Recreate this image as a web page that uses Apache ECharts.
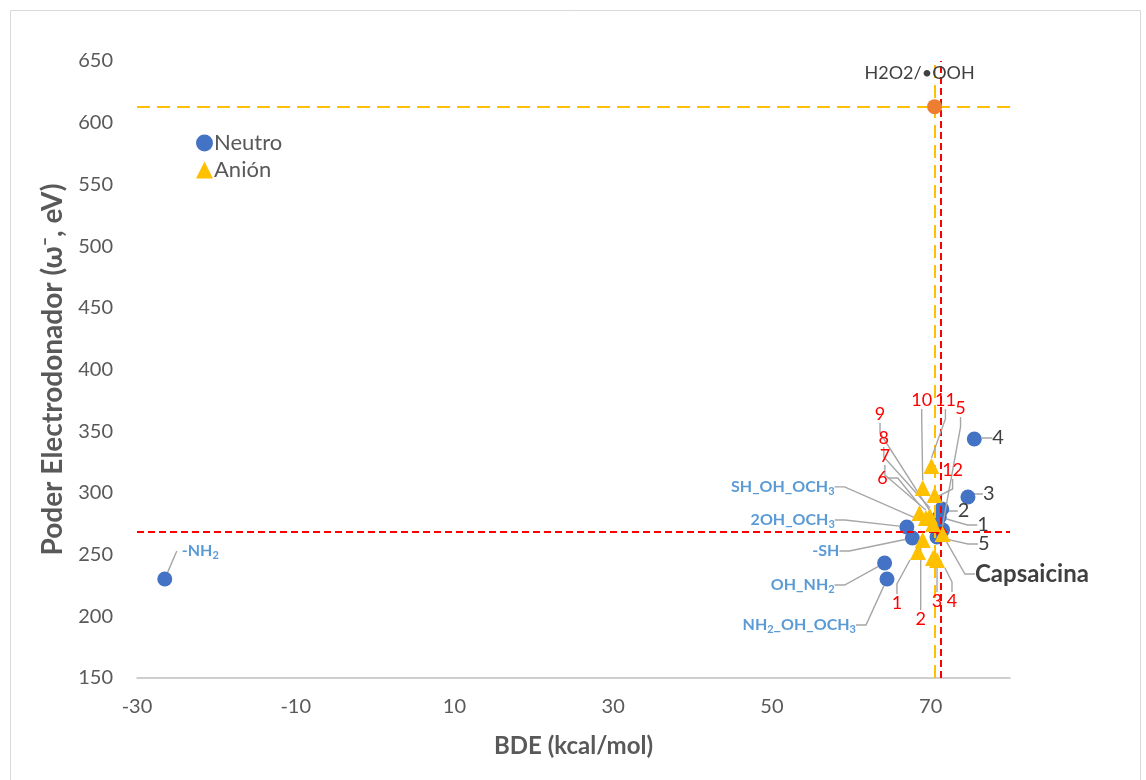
<!DOCTYPE html>
<html>
<head>
<meta charset="utf-8">
<script src="https://cdn.jsdelivr.net/npm/echarts@6/dist/echarts.min.js"></script>
<style>
  html, body { margin: 0; padding: 0; background: #ffffff; }
  #chart { width: 1146px; height: 780px; }
</style>
</head>
<body>
<div id="chart"></div>
<script>
// Neutral species (blue circles)
const neutroNames = ['1', '2', '3', '4', '5', 'SH_OH_OCH3', '2OH_OCH3', '-SH', 'OH_NH2', 'NH2_OH_OCH3', '-NH2'];
const neutroBDE   = [71.1, 71.4, 74.7, 75.5, 70.8, 71.5, 67.0, 67.7, 64.2, 64.5, -26.5];
const neutroOmega = [280.5, 287.0, 296.7, 343.7, 264.3, 270.0, 272.4, 263.5, 243.2, 230.2, 230.2];

// Anionic species (yellow triangles)
const anionNames = ['1', '2', '3', '4', '5', '6', '7', '8', '9', '10', '11', '12'];
const anionBDE   = [68.4, 69.0, 70.3, 70.8, 71.5, 68.6, 69.4, 69.9, 70.3, 69.0, 70.1, 70.5];
const anionOmega = [252.1, 261.8, 247.2, 245.6, 266.7, 283.7, 279.7, 281.3, 274.8, 304.0, 321.8, 298.3];

// Reference compounds
const capsaicinName  = ['Capsaicina'];
const capsaicinBDE   = [71.3];
const capsaicinOmega = [268.3];
const radicalName  = ['H2O2/•OOH'];
const radicalBDE   = [70.5];
const radicalOmega = [613];

// Axis ranges
const xMin = -30, xMax = 80, xStep = 20;
const yMin = 150, yMax = 650, yStep = 50;

// Label placement: offsets in pixels from each marker centre, with text alignment
const neutroLabelPos = [
  [38, 8, 'left'], [16, 2, 'left'], [15, -3, 'left'], [18, -1, 'left'], [41, 7, 'left'],
  [-108, -43, 'right'], [-72, -7, 'right'], [-73, 13, 'right'], [-50, 22, 'right'], [-31, 46, 'right'],
  [12, -28, 'left']
];
const anionLabelPos = [
  [-21, 51, 'center'], [-2, 79, 'center'], [4, 43, 'center'], [15, 41, 'center'], [18, -126, 'center'],
  [-37, -35, 'center'], [-41, -62, 'center'], [-46, -78, 'center'], [-53, -110, 'center'],
  [-1, -88, 'center'], [14, -66, 'center'], [18, -25, 'center']
];
const capsaicinLabelPos = [[34, 42, 'left']];

const FONT = 'Lato, "Open Sans", sans-serif';
const leaderLine = { show: true, length2: 10, lineStyle: { color: '#a6a6a6', width: 1.4 } };

function zip(xs, ys, names) {
  return xs.map((x, i) => ({ name: names[i], value: [x, ys[i]] }));
}

function layoutFrom(table) {
  return function (params) {
    const p = table[params.dataIndex];
    const r = params.rect;
    return {
      x: r.x + r.width / 2 + p[0],
      y: r.y + r.height / 2 + p[1],
      align: p[2],
      verticalAlign: 'middle'
    };
  };
}

// Chemical formula subscripts: a digit right after H is written as subscript
function formula(name) {
  return name.replace(/H(\d)/g, 'H{s|$1}');
}

const chart = echarts.init(document.getElementById('chart'), null, { renderer: 'canvas' });

const option = {
  animation: false,
  backgroundColor: '#ffffff',
  textStyle: { fontFamily: FONT },
  graphic: [{
    type: 'rect',
    silent: true,
    shape: { x: 10.5, y: 10.5, width: 1130, height: 790 },
    style: { fill: 'none', stroke: '#d9d9d9', lineWidth: 1 }
  }],
  grid: { left: 137, top: 61, right: 136, bottom: 102, containLabel: false },
  legend: {
    left: 191, top: 127, orient: 'vertical',
    itemWidth: 17, itemHeight: 17, itemGap: 5,
    data: ['Neutro', 'Anión'],
    textStyle: { fontSize: 22, color: '#595959', fontFamily: FONT, padding: [0, 0, 0, -4] }
  },
  xAxis: {
    type: 'value', min: xMin, max: xMax, interval: xStep,
    name: 'BDE (kcal/mol)', nameLocation: 'middle', nameGap: 56,
    nameTextStyle: { fontSize: 24, fontWeight: 'bold', color: '#595959', fontFamily: FONT },
    axisLine: { show: true, lineStyle: { color: '#bfbfbf', width: 1.5 } },
    axisTick: { show: false },
    splitLine: { show: false },
    axisLabel: { fontSize: 20, color: '#595959', margin: 19, showMaxLabel: false, fontFamily: FONT }
  },
  yAxis: {
    type: 'value', min: yMin, max: yMax, interval: yStep,
    name: 'Poder Electrodonador (ω⁻, eV)', nameLocation: 'middle', nameGap: 65,
    nameTextStyle: { fontSize: 28, fontWeight: 'bold', color: '#595959', fontFamily: FONT },
    axisLine: { show: false },
    axisTick: { show: false },
    splitLine: { show: false },
    axisLabel: { fontSize: 20, color: '#595959', margin: 24, fontFamily: FONT }
  },
  series: [
    {
      // dashed reference lines through capsaicin and the H2O2/•OOH pair
      type: 'scatter', name: 'ref', data: [], z: 1, silent: true,
      markLine: {
        silent: true, symbol: 'none', animation: false,
        label: { show: false },
        data: [
          { xAxis: radicalBDE[0], lineStyle: { color: '#ffc000', type: [13, 7], width: 2 } },
          { yAxis: radicalOmega[0], lineStyle: { color: '#ffc000', type: [13, 7], width: 2 } },
          { xAxis: capsaicinBDE[0], lineStyle: { color: '#ff0000', type: [7, 4], width: 2 } },
          { yAxis: capsaicinOmega[0], lineStyle: { color: '#ff0000', type: [7, 4], width: 2 } }
        ]
      }
    },
    {
      name: 'Neutro', type: 'scatter', z: 3,
      symbol: 'circle', symbolSize: 15,
      itemStyle: { color: '#4472c4', opacity: 1 },
      data: zip(neutroBDE, neutroOmega, neutroNames).map((d) => {
        const isNumber = /^\d+$/.test(d.name);
        d.label = isNumber
          ? { color: '#404040', fontSize: 20, fontWeight: 'normal' }
          : { color: '#5b9bd5', fontSize: 16, fontWeight: 'bold' };
        if (d.name === '-NH2') {
          d.label.padding = [0, 0, 0, 5];
          d.labelLine = { show: true, length2: 0, lineStyle: { color: '#a6a6a6', width: 1.4 } };
        }
        return d;
      }),
      label: {
        show: true, fontFamily: FONT, lineHeight: 20,
        formatter: (p) => formula(p.name),
        rich: { s: { fontSize: 11, fontWeight: 'bold', color: '#5b9bd5', fontFamily: FONT, verticalAlign: 'bottom', lineHeight: 14, padding: [6, 0, 0, 0] } }
      },
      labelLine: leaderLine,
      labelLayout: layoutFrom(neutroLabelPos)
    },
    {
      name: 'Capsaicina', type: 'scatter', z: 4,
      symbol: 'circle', symbolSize: 10,
      itemStyle: { color: '#ff0000', opacity: 1 },
      data: zip(capsaicinBDE, capsaicinOmega, capsaicinName),
      label: { show: true, formatter: '{b}', fontSize: 24, fontWeight: 'bold', color: '#404040', fontFamily: FONT },
      labelLine: leaderLine,
      labelLayout: layoutFrom(capsaicinLabelPos)
    },
    {
      name: 'Anión', type: 'scatter', z: 5,
      symbol: 'triangle', symbolSize: 16,
      itemStyle: { color: '#ffc000', opacity: 1 },
      data: zip(anionBDE, anionOmega, anionNames),
      label: { show: true, formatter: '{b}', fontSize: 18, color: '#ff0000', fontFamily: FONT },
      labelLine: leaderLine,
      labelLayout: layoutFrom(anionLabelPos)
    },
    {
      name: 'H2O2/•OOH', type: 'scatter', z: 6,
      symbol: 'circle', symbolSize: 15,
      itemStyle: { color: '#ed7d31', opacity: 1 },
      data: zip(radicalBDE, radicalOmega, radicalName),
      label: { show: true, position: 'top', formatter: '{b}', offset: [-15, -12], fontSize: 18, color: '#404040', fontFamily: FONT }
    }
  ]
};

chart.setOption(option);
</script>
</body>
</html>
